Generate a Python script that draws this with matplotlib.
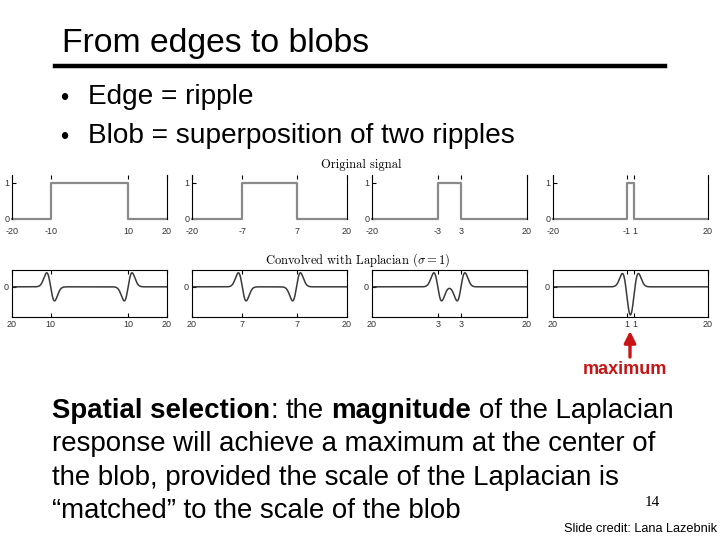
import matplotlib
matplotlib.use('Agg')
import matplotlib.pyplot as plt
import numpy as np

# slide text
title = 'From edges to blobs'
bullets = ['Edge = ripple', 'Blob = superposition of two ripples']
body_lines = [
    [('Spatial selection', True, False), (':', False, False), ('the', False, True),
     ('magnitude', True, True), ('of the Laplacian', False, True)],
    'response will achieve a maximum at the center of',
    'the blob, provided the scale of the Laplacian is',
    '\u201cmatched\u201d to the scale of the blob',
]
page_no = '14'
credit = 'Slide credit: Lana Lazebnik'

# blob half widths and the Laplacian scale
half_widths = [10, 7, 3, 1]
sigma = 1.0
x_range = [-20, 20]
top_labels = [['-20', '-10', '10', '20'], ['-20', '-7', '7', '20'],
              ['-20', '-3', '3', '20'], ['-20', '-1', '1', '20']]
bottom_labels = [['20', '10', '10', '20'], ['20', '7', '7', '20'],
                 ['20', '3', '3', '20'], ['20', '1', '1', '20']]

W, H = 720, 540
RED = '#c81414'
plt.rcParams['font.family'] = ['Liberation Sans', 'DejaVu Sans']
plt.rcParams['mathtext.fontset'] = 'cm'


def fx(px):
    return px / W


def fy(py):
    return 1 - py / H


fig = plt.figure(figsize=(W / 100, H / 100), dpi=100)
renderer = fig.canvas.get_renderer()

# header
fig.text(fx(62), fy(52), title, fontsize=24.3, va='baseline')
fig.add_artist(plt.Line2D([fx(55), fx(665)], [fy(66), fy(66)], color='black', lw=3.2))
for i, b in enumerate(bullets):
    yb = fy(104 + 39 * i)
    fig.text(fx(60), yb - 0.002, '\u2022', fontsize=17, va='baseline')
    fig.text(fx(88), yb, b, fontsize=20.2, va='baseline')

# signals
dx = 0.05
x = np.arange(x_range[0], x_range[1] + dx / 2, dx)
xk = np.arange(-6, 6 + dx / 2, dx)
gauss = np.exp(-xk ** 2 / (2 * sigma ** 2)) / (np.sqrt(2 * np.pi) * sigma)
log_kernel = (xk ** 2 / sigma ** 4 - 1 / sigma ** 2) * gauss

lefts = [12, 192, 372, 553]
for i, w in enumerate(half_widths):
    ticks = [x_range[0], -w, w, x_range[1]]

    # original box signal
    ax = fig.add_axes([fx(lefts[i]), fy(219), 155 / W, 44 / H])
    ax.plot([x_range[0], -w, -w, w, w, x_range[1]], [0, 0, 1, 1, 0, 0],
            color='#8a8a8a', lw=1.6, clip_on=False)
    ax.set_xlim(x_range)
    ax.set_ylim(0, 1.22)
    for s in ['top', 'bottom']:
        ax.spines[s].set_visible(False)
    ax.set_xticks(ticks)
    ax.set_xticklabels(top_labels[i])
    ax.set_yticks([0, 1])
    ax.tick_params(direction='in', length=3, width=0.8, labelsize=6.5,
                   top=True, bottom=False, pad=6, labelcolor='#333333')
    ax.tick_params(axis='y', pad=2)

    # convolved with the Laplacian of Gaussian
    box = (np.abs(x) <= w).astype(float)
    resp = np.convolve(box, log_kernel, mode='same') * dx
    ax2 = fig.add_axes([fx(lefts[i]), fy(317), 155 / W, 47 / H])
    ax2.plot(x, resp, color='#3a3a3a', lw=1.1)
    ax2.set_xlim(x_range)
    ax2.set_ylim(-0.52, 0.29)
    ax2.set_xticks(ticks)
    ax2.set_xticklabels(bottom_labels[i])
    ax2.set_yticks([0])
    ax2.tick_params(direction='in', length=3, width=0.8, labelsize=6.5,
                    top=True, pad=2.5, labelcolor='#333333')

fig.text(fx(361), fy(165), 'Original signal', fontsize=9, family='cmr10',
         ha='center', va='center')
fig.text(fx(358), fy(260), r'Convolved with Laplacian ($\sigma = 1$)', fontsize=9,
         family='cmr10', ha='center', va='center')

# maximum marker
fig.text(fx(625), fy(369), 'maximum', fontsize=13, fontweight='bold', color=RED,
         ha='center', va='center')
fig.add_artist(matplotlib.patches.FancyArrowPatch(
    (fx(630), fy(357)), (fx(630), fy(331)), transform=fig.transFigure,
    arrowstyle='-|>', mutation_scale=17, color=RED, lw=2.4, shrinkA=0, shrinkB=0))

# body paragraph
body_size = 19.9


def text_width(s, bold=False):
    t = fig.text(0, 0, s, fontsize=body_size, fontweight='bold' if bold else 'normal')
    wpx = t.get_window_extent(renderer).width
    t.remove()
    return wpx


space_w = text_width('a a') - text_width('aa')
for j, line in enumerate(body_lines):
    yb = fy(418 + 33.3 * j)
    if isinstance(line, str):
        fig.text(fx(52), yb, line, fontsize=body_size, va='baseline')
        continue
    xp = 52
    for txt, bold, gap in line:
        if gap:
            xp += space_w
        fig.text(fx(xp), yb, txt, fontsize=body_size, va='baseline',
                 fontweight='bold' if bold else 'normal')
        xp += text_width(txt, bold)

fig.text(fx(652), fy(503), page_no, fontsize=11, family='Liberation Serif',
         ha='center', va='center')
fig.text(fx(717), fy(532), credit, fontsize=9.2, va='baseline', ha='right')

fig.savefig('out.png', dpi=100)
